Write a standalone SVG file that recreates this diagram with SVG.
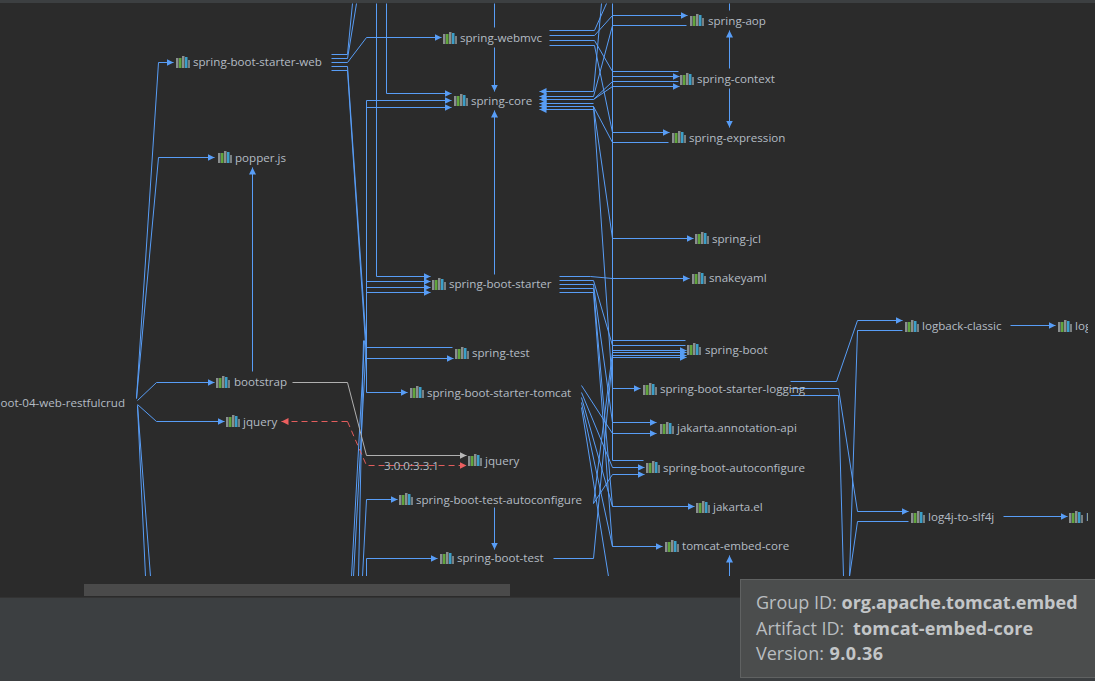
<svg xmlns="http://www.w3.org/2000/svg" width="1095" height="681" viewBox="0 0 1095 681">
<style>
text{font-family:"Open Sans","Liberation Sans",sans-serif;font-size:11.600px;fill:#b4bcc4}
.e{fill:none;stroke:#589df6;stroke-width:1}
.a{marker-end:url(#ab)}
.g{fill:none;stroke:#b0b0b0;stroke-width:1}
.r{fill:none;stroke:#e35d5d;stroke-width:1;stroke-dasharray:6 4}
.t{font-size:18px;fill:#b9bdc0}
.t tspan{font-weight:700;fill:#c3c6c8}
</style>
<defs>
<marker id="ab" markerUnits="userSpaceOnUse" markerWidth="8" markerHeight="8" refX="7" refY="4" orient="auto"><path d="M0 .5L7 4L0 7.500z" fill="#589df6"/></marker>
<marker id="ag" markerUnits="userSpaceOnUse" markerWidth="8" markerHeight="8" refX="7" refY="4" orient="auto"><path d="M0 .5L7 4L0 7.500z" fill="#b8b8b8"/></marker>
<marker id="ar" markerUnits="userSpaceOnUse" markerWidth="8" markerHeight="8" refX="7" refY="4" orient="auto"><path d="M0 .5L7 4L0 7.500z" fill="#ec5f5f"/></marker>
<symbol id="ic" width="14" height="12" viewBox="0 0 14 12">
<rect x="0" y="2" width="2.500" height="10" fill="#8a8f90"/><rect x="3" y="2" width="2.500" height="10" fill="#62a53e"/><rect x="6" y="0" width="2.500" height="12" fill="#8a8f90"/><rect x="9" y="1" width="2.500" height="11" fill="#3c9fc8"/><rect x="12" y="4" width="2" height="8" fill="#7a7f80"/>
</symbol>
<clipPath id="view"><rect x="0" y="3" width="1088" height="573"/></clipPath>
</defs>
<rect width="1095" height="681" fill="#2b2b2b"/>
<rect width="1095" height="3" fill="#3c3f41"/>
<g id="connectors" clip-path="url(#view)"><g transform="translate(.5 .5)">
<path class="e a" d="M136 398L158 62H173"/>
<path class="e a" d="M136 398L158 157H214"/>
<path class="e a" d="M137 400L156 382H214"/>
<path class="e a" d="M137 404L156 421H224"/>
<path class="e" d="M137 405L145 576M137 405L150 576"/>
<path class="e a" d="M252 371V167"/>
<path class="e" d="M331 54H347L352 3M331 58H347L356 3"/>
<path class="e a" d="M331 62H347L366 37H441"/>
<path class="e" d="M331 66H347L366 347M331 70H347L366 358"/>
<path class="e a" d="M376 3V276H430"/>
<path class="e a" d="M386 3V93H451"/>
<path class="e a" d="M366 392V100H451"/>
<path class="e a" d="M366 107H451"/>
<path class="e" d="M364 340L351 576M366 340L353 576M363 340L358 576"/>
<path class="e a" d="M366 281H430"/>
<path class="e a" d="M366 287H430"/>
<path class="e a" d="M366 292H430"/>
<path class="e" d="M366 347H452"/>
<path class="e a" d="M366 358H453"/>
<path class="e a" d="M366 392H407"/>
<path class="e a" d="M362 576L366 499H397"/>
<path class="e a" d="M366 576V558H437"/>
<path class="e" d="M494 3V27"/>
<path class="e a" d="M494 47V91"/>
<path class="e a" d="M494 274V110"/>
<path class="e a" d="M494 507V549"/>
<path class="g" d="M292 382H347L366 455"/>
<path class="g" marker-end="url(#ag)" d="M366 455H466"/>
<path class="r" marker-end="url(#ar)" d="M347 421H281"/>
<path class="r" marker-end="url(#ar)" d="M347 421L366 465H466"/>
<path class="e" d="M549 30H594L606 3M549 35H594L612 15M549 40H594L612 71M549 45H594L612 132"/>
<path class="e a" d="M593 91H539"/>
<path class="e a" d="M593 96H539"/>
<path class="e a" d="M593 99H539"/>
<path class="e a" d="M593 103H539"/>
<path class="e a" d="M593 106H539"/>
<path class="e a" d="M593 109H539"/>
<path class="e" d="M593 91L601 3M593 96L612 25M593 99L612 81M593 99L612 86M593 106L612 142M593 106L612 238M593 106L612 388"/>
<path class="e" d="M612 3V460"/>
<path class="e a" d="M612 15H687"/>
<path class="e" d="M612 25H686"/>
<path class="e" d="M612 71H678"/>
<path class="e a" d="M612 76H679"/>
<path class="e" d="M612 81H678"/>
<path class="e a" d="M612 86H679"/>
<path class="e a" d="M612 132H669"/>
<path class="e" d="M612 142H668"/>
<path class="e a" d="M612 238H693"/>
<path class="e a" d="M559 276H590L612 278H689"/>
<path class="e" d="M559 280H593L612 345M559 284H593L612 422M559 288H593L612 506M559 292H593L612 546"/>
<path class="e" d="M612 340H685M612 345H685"/>
<path class="e a" d="M612 350H686"/>
<path class="e a" d="M612 352H686"/>
<path class="e a" d="M612 355H686"/>
<path class="e a" d="M612 357H686"/>
<path class="e a" d="M612 388H640"/>
<path class="e a" d="M612 422H656"/>
<path class="e a" d="M612 433H656"/>
<path class="e" d="M612 460H643"/>
<path class="e a" d="M612 467H644"/>
<path class="e a" d="M612 474H644"/>
<path class="e a" d="M612 506H694"/>
<path class="e a" d="M612 546H662"/>
<path class="e" d="M581 385L612 433M581 392L612 467M581 397L612 506M581 402L612 546M581 407L608 576"/>
<path class="e" d="M593 503L612 474M593 503L612 352M553 558H593L612 357"/>
<path class="e a" d="M729 576V555"/>
<path class="e" d="M729 3V10"/>
<path class="e a" d="M729 68V30"/>
<path class="e a" d="M729 88V127"/>
<path class="e a" d="M790 381H836L857 320H902"/>
<path class="e" d="M849 576L857 330H902"/>
<path class="e a" d="M790 388H838L857 511H908"/>
<path class="e" d="M849 576L857 521H908"/>
<path class="e" d="M790 395H838L843 576"/>
<path class="e a" d="M1010 325H1055"/>
<path class="e a" d="M1003 516H1067"/>
</g></g>
<g id="root"><text x="125" y="407" text-anchor="end">oot-04-web-restfulcrud</text></g>
<g id="spring-boot-starter-web"><use href="#ic" x="176" y="56"/><text x="193" y="66">spring-boot-starter-web</text></g>
<g id="popper"><use href="#ic" x="218" y="151"/><text x="235" y="162">popper.js</text></g>
<g id="bootstrap"><use href="#ic" x="216" y="376"/><text x="234" y="386">bootstrap</text></g>
<g id="jquery-a"><use href="#ic" x="226" y="415"/><text x="243" y="426">jquery</text></g>
<g id="spring-webmvc"><use href="#ic" x="443" y="32"/><text x="460" y="42">spring-webmvc</text></g>
<g id="spring-core"><use href="#ic" x="454" y="94"/><text x="471" y="105">spring-core</text></g>
<g id="spring-boot-starter"><use href="#ic" x="432" y="278"/><text x="449" y="288">spring-boot-starter</text></g>
<g id="spring-test"><use href="#ic" x="455" y="347"/><text x="472" y="357">spring-test</text></g>
<g id="spring-boot-starter-tomcat"><use href="#ic" x="410" y="386"/><text x="427" y="397">spring-boot-starter-tomcat</text></g>
<g id="jquery-b"><use href="#ic" x="468" y="454"/><text x="485" y="465">jquery</text></g>
<g id="spring-boot-test-autoconfigure"><use href="#ic" x="399" y="493"/><text x="416" y="504">spring-boot-test-autoconfigure</text></g>
<g id="spring-boot-test"><use href="#ic" x="440" y="552"/><text x="457" y="562">spring-boot-test</text></g>
<g id="spring-aop"><use href="#ic" x="690" y="14"/><text x="708" y="25">spring-aop</text></g>
<g id="spring-context"><use href="#ic" x="680" y="73"/><text x="697" y="83">spring-context</text></g>
<g id="spring-expression"><use href="#ic" x="672" y="131"/><text x="689" y="142">spring-expression</text></g>
<g id="spring-jcl"><use href="#ic" x="695" y="232"/><text x="712" y="243">spring-jcl</text></g>
<g id="snakeyaml"><use href="#ic" x="692" y="272"/><text x="709" y="282">snakeyaml</text></g>
<g id="spring-boot"><use href="#ic" x="687" y="343"/><text x="705" y="354">spring-boot</text></g>
<g id="spring-boot-starter-logging"><use href="#ic" x="643" y="383"/><text x="660" y="393">spring-boot-starter-logging</text></g>
<g id="jakarta-annotation-api"><use href="#ic" x="660" y="422"/><text x="677" y="432">jakarta.annotation-api</text></g>
<g id="spring-boot-autoconfigure"><use href="#ic" x="646" y="461"/><text x="663" y="472">spring-boot-autoconfigure</text></g>
<g id="jakarta-el"><use href="#ic" x="696" y="501"/><text x="713" y="511">jakarta.el</text></g>
<g id="tomcat-embed-core"><use href="#ic" x="665" y="540"/><text x="682" y="550">tomcat-embed-core</text></g>
<g id="logback-classic"><use href="#ic" x="905" y="320"/><text x="922" y="330">logback-classic</text></g>
<g id="log-clipped" clip-path="url(#view)"><use href="#ic" x="1058" y="320"/><text x="1075" y="330">log</text></g>
<g id="log4j-to-slf4j"><use href="#ic" x="911" y="511"/><text x="928" y="521">log4j-to-slf4j</text></g>
<g id="l-clipped" clip-path="url(#view)"><use href="#ic" x="1069" y="511"/><text x="1086" y="521">l</text></g>
<text x="384" y="470" fill="#a8a8a8">3.0.0:3.3.1</text>
<rect x="0" y="598" width="1095" height="83" fill="#3c3f41"/>
<rect x="0" y="597" width="1095" height="1" fill="#333"/>
<rect x="84" y="584" width="426" height="12" fill="#4a4a4a"/>
<g id="tooltip">
<rect x="740.500" y="579.500" width="355" height="98" fill="#4b4d4d" stroke="#606262"/>
<text class="t" x="756" y="609">Group ID: <tspan>org.apache.tomcat.embed</tspan></text>
<text class="t" x="756" y="635">Artifact ID: <tspan dx="4" letter-spacing=".2">tomcat-embed-core</tspan></text>
<text class="t" x="756" y="660">Version: <tspan dx="1" letter-spacing=".4">9.0.36</tspan></text>
</g>
</svg>
